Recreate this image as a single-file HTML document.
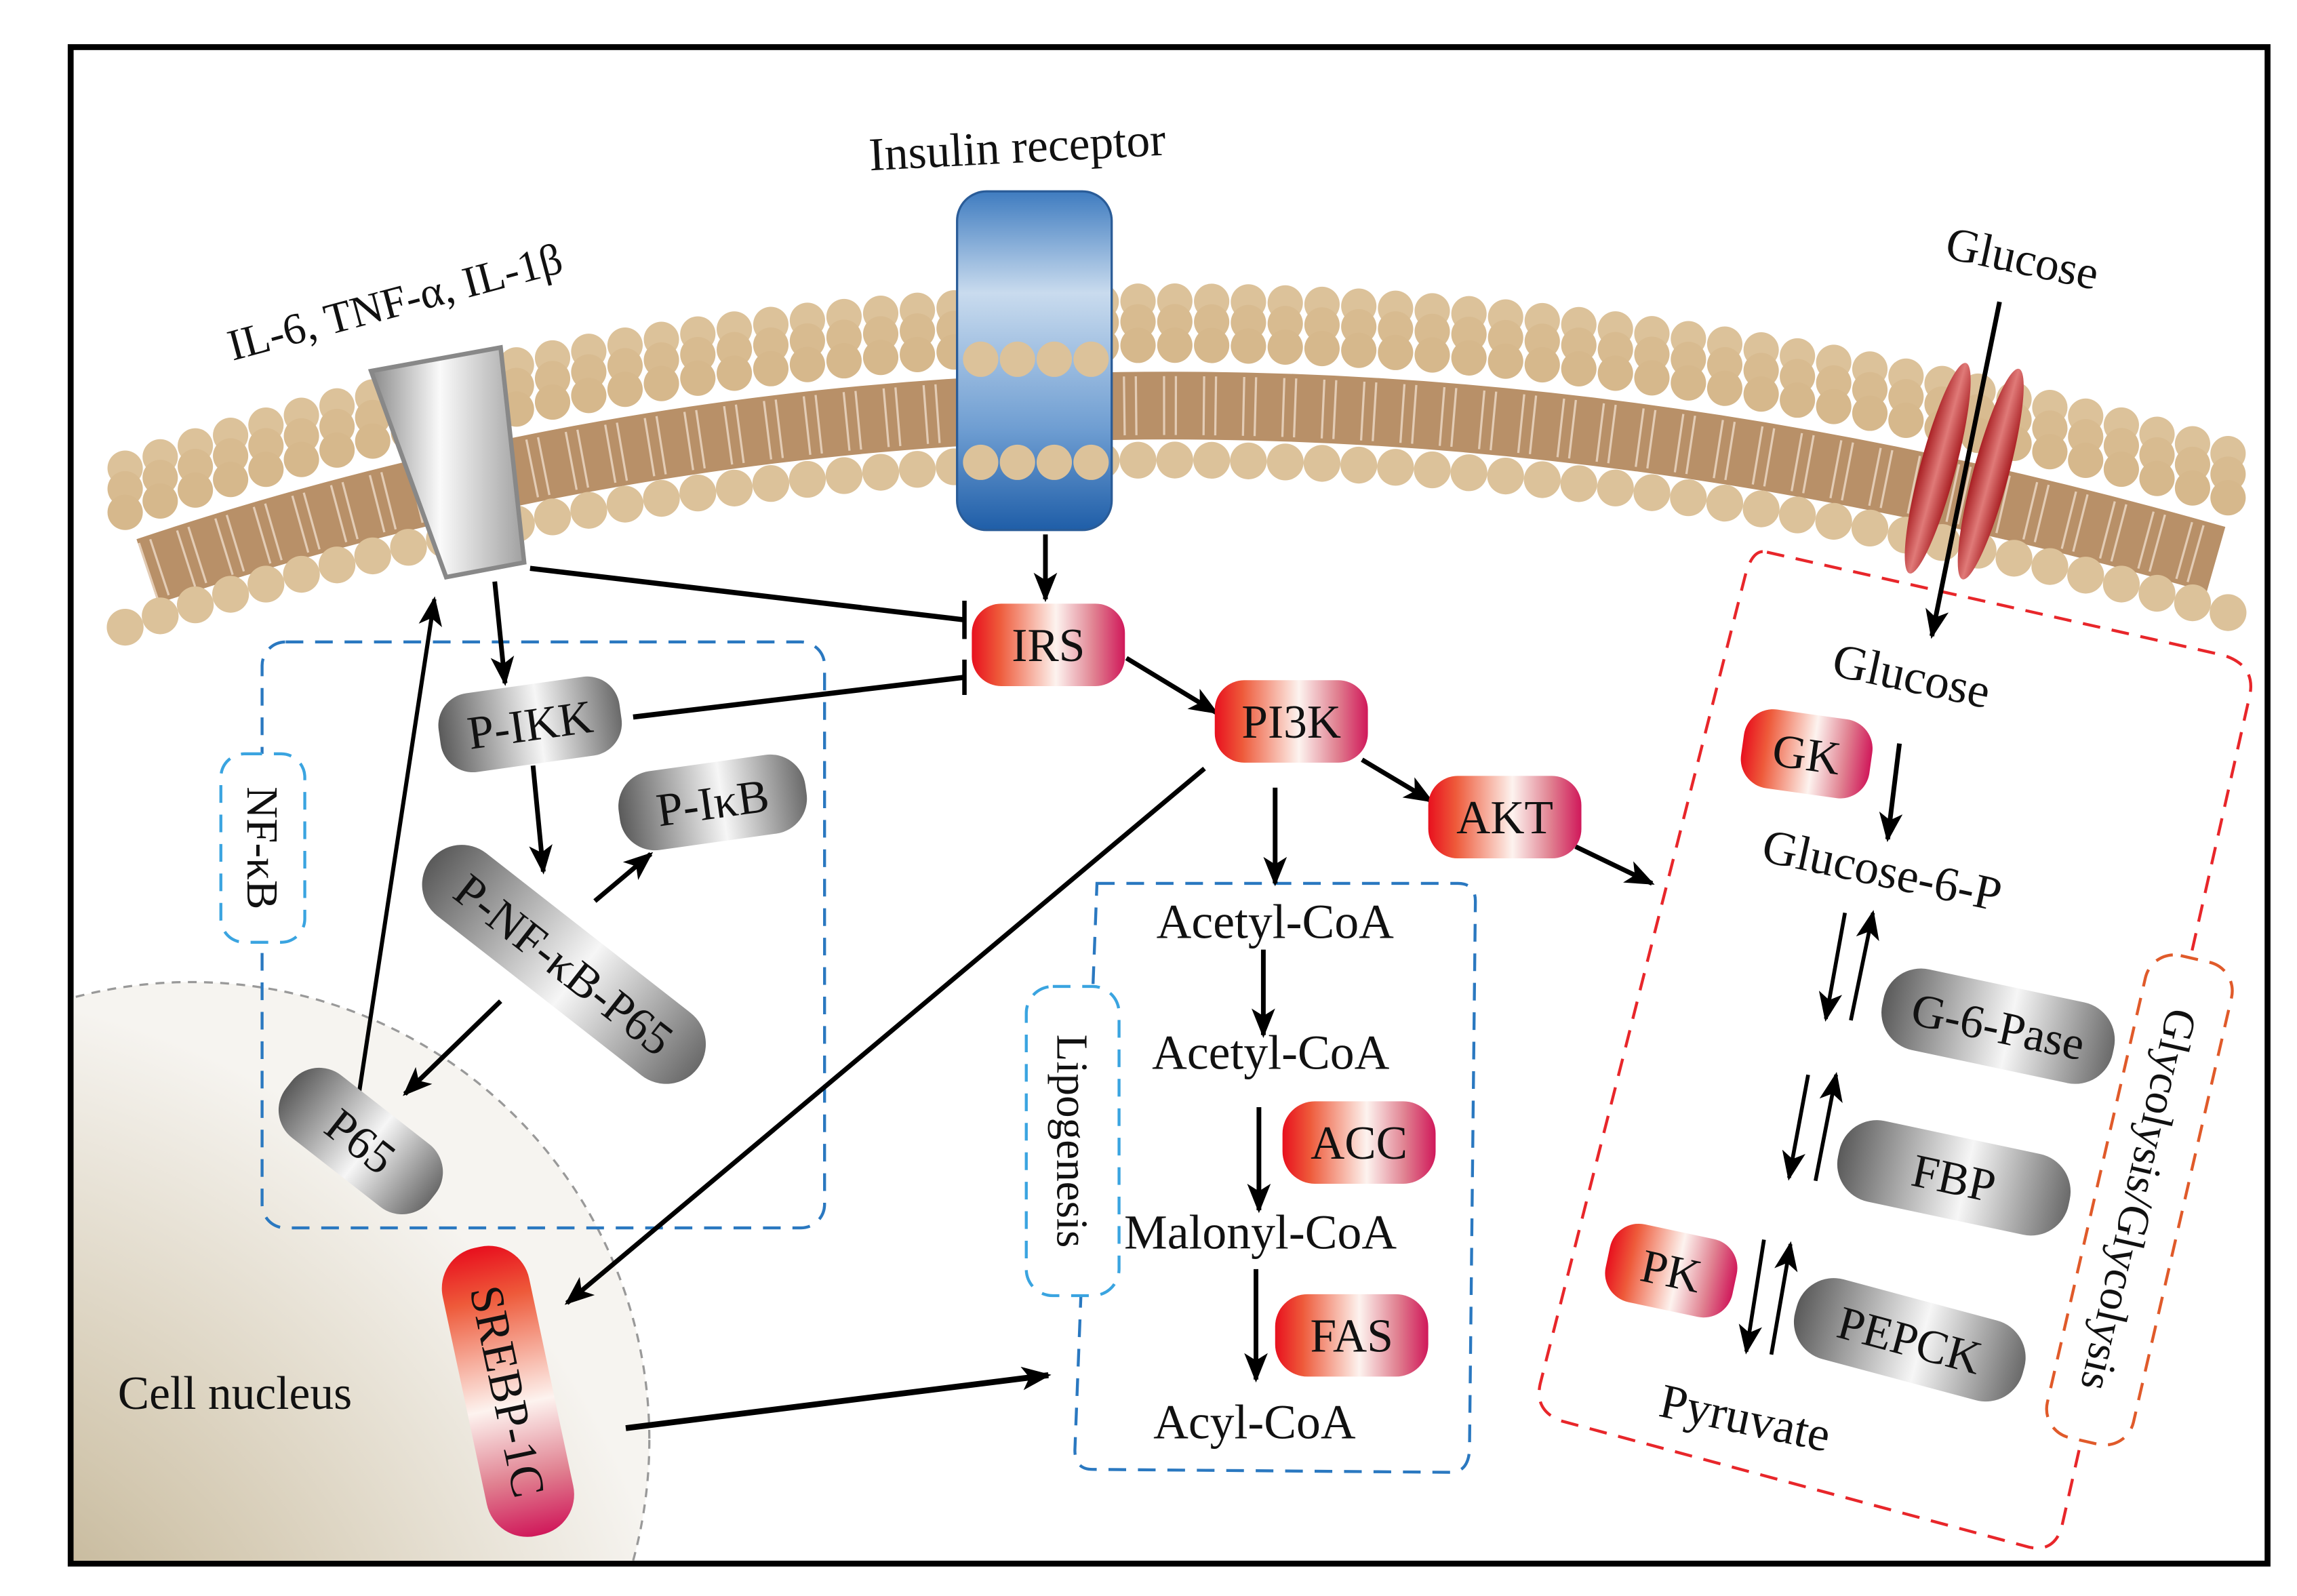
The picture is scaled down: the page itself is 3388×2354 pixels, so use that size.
<!DOCTYPE html>
<html><head><meta charset="utf-8"><style>
html,body{margin:0;padding:0;background:#fff;overflow:hidden;width:3388px;height:2354px;position:relative;}
svg{display:block;position:absolute;left:0;top:0;}
text{font-family:"Liberation Serif",serif;fill:#111;}
</style></head><body>
<svg width="3388" height="2354" viewBox="0 0 1560 1084" preserveAspectRatio="none" xmlns="http://www.w3.org/2000/svg">
<defs>
<linearGradient id="red" x1="0" y1="0" x2="1" y2="0">
<stop offset="0" stop-color="#e8101e"/><stop offset="0.18" stop-color="#ee5a3a"/><stop offset="0.55" stop-color="#fdf3ef"/><stop offset="0.8" stop-color="#e08090"/><stop offset="1" stop-color="#d0185a"/></linearGradient>
<linearGradient id="grey" x1="0" y1="0" x2="1" y2="0">
<stop offset="0" stop-color="#5a5a5a"/><stop offset="0.55" stop-color="#f6f6f6"/><stop offset="1" stop-color="#6a6a6a"/></linearGradient>
<linearGradient id="chan" x1="0" y1="0" x2="1" y2="0">
<stop offset="0" stop-color="#8a8a8a"/><stop offset="0.45" stop-color="#fafafa"/><stop offset="1" stop-color="#a0a0a0"/></linearGradient>
<linearGradient id="blue" x1="0" y1="0" x2="0" y2="1">
<stop offset="0" stop-color="#3f7cc0"/><stop offset="0.3" stop-color="#c9dbee"/><stop offset="0.7" stop-color="#6f9ed2"/><stop offset="1" stop-color="#1f5ea8"/></linearGradient>
<linearGradient id="glut" x1="0" y1="0" x2="1" y2="0">
<stop offset="0" stop-color="#a81e22"/><stop offset="0.5" stop-color="#e07a78"/><stop offset="1" stop-color="#a81e22"/></linearGradient>
<radialGradient id="nuc" cx="0.15" cy="0.9" r="0.9">
<stop offset="0" stop-color="#a8946a"/><stop offset="0.5" stop-color="#d3c8b0"/><stop offset="1" stop-color="#f6f4f0"/></radialGradient>
<clipPath id="frame"><rect x="50" y="34" width="1488" height="1026"/></clipPath>
<marker id="ah" markerWidth="20" markerHeight="16" refX="18" refY="8" orient="auto" markerUnits="userSpaceOnUse">
<path d="M0,0 L20,8 L0,16 L5,8 Z" fill="#000"/></marker>
</defs>

<rect x="48" y="32" width="1492" height="1030" fill="#fff" stroke="#000" stroke-width="4"/>

<g clip-path="url(#frame)">
<circle cx="130" cy="978" r="311" fill="url(#nuc)" stroke="#999" stroke-width="1.5" stroke-dasharray="6 5"/>
</g>
<text x="80" y="957" font-size="32">Cell nucleus</text>

<g fill="none" stroke-linecap="round">
<g transform="translate(0,72)"><path d="M100,316 Q760,95 1505,308" stroke="#b89068" stroke-width="46" stroke-linecap="butt"/>
<path d="M100,316 Q760,95 1505,308" stroke="#f5e6d6" stroke-width="40" stroke-linecap="butt" stroke-dasharray="1.5 6.5 1.5 17.5" opacity="0.7"/></g>
<path d="M85,318 Q760,95 1520,310" stroke="#dcc29a" stroke-width="24" stroke-dasharray="0 25"/>
<g transform="translate(0,14)"><path d="M85,318 Q760,95 1520,310" stroke="#d8bb90" stroke-width="24" stroke-dasharray="0 25"/></g>
<g transform="translate(0,30)"><path d="M85,318 Q760,95 1520,310" stroke="#d6b88c" stroke-width="24" stroke-dasharray="0 25"/></g>
<g transform="translate(0,108)"><path d="M85,318 Q760,95 1520,310" stroke="#dcc29a" stroke-width="25" stroke-dasharray="0 25"/></g>
</g>

<rect x="650" y="130" width="105" height="230" rx="20" fill="url(#blue)" stroke="#2a5c98" stroke-width="1.5"/>
<g fill="#dcc29a"><circle cx="666" cy="244" r="12"/><circle cx="691" cy="244" r="12"/><circle cx="716" cy="244" r="12"/><circle cx="741" cy="244" r="12"/>
<circle cx="666" cy="314" r="12"/><circle cx="691" cy="314" r="12"/><circle cx="716" cy="314" r="12"/><circle cx="741" cy="314" r="12"/></g>
<text x="590" y="110" font-size="32" transform="rotate(-3 700 100)">Insulin receptor</text>

<polygon points="252,252 340,236 356,382 303,392" fill="url(#chan)" stroke="#888" stroke-width="3"/>
<text x="158" y="245" font-size="30" transform="rotate(-15 158 245)">IL-6, TNF-α, IL-1β</text>

<ellipse cx="1316" cy="318" rx="12" ry="74" fill="url(#glut)" transform="rotate(15 1316 318)"/>
<ellipse cx="1352" cy="322" rx="12" ry="74" fill="url(#glut)" transform="rotate(15 1352 322)"/>
<text x="1320" y="175" font-size="32" transform="rotate(12 1320 175)">Glucose</text>

<rect x="178" y="436" width="382" height="398" rx="16" fill="none" stroke="#2a78c0" stroke-width="2" stroke-dasharray="12 8"/>
<rect x="150" y="512" width="57" height="128" rx="16" fill="#fff" stroke="#3aa4e0" stroke-width="2" stroke-dasharray="12 8"/>
<text x="0" y="0" font-size="30" transform="translate(168,576) rotate(90)" text-anchor="middle">NF-κB</text>

<path d="M745,600 L990,600 Q1002,600 1002,612 L998,985 Q997,1000 985,1000 L742,998 Q730,998 730,985 Z" fill="none" stroke="#2a78c0" stroke-width="2" stroke-dasharray="12 8"/>
<rect x="697" y="670" width="63" height="210" rx="18" fill="#fff" stroke="#3aa4e0" stroke-width="2" stroke-dasharray="12 8"/>
<text x="0" y="0" font-size="30" transform="translate(718,775) rotate(90)" text-anchor="middle">Lipogenesis</text>

<path d="M1200,375 L1510,445 Q1532,452 1528,472 L1400,1038 Q1394,1056 1375,1050 L1060,965 Q1042,958 1046,940 L1185,392 Q1190,372 1200,375 Z" fill="none" stroke="#e8262a" stroke-width="2" stroke-dasharray="12 8"/>
<g transform="translate(1453,815) rotate(13)">
<rect x="-30" y="-168" width="60" height="336" rx="20" fill="#fff" stroke="#e05a2a" stroke-width="2" stroke-dasharray="12 8"/>
<text x="0" y="0" font-size="30" transform="rotate(90)" text-anchor="middle" dy="0.35em">Glycolysis/Glycolysis</text>
</g>

<g stroke="#000" stroke-width="3.2" fill="none">
<line x1="710" y1="363" x2="710" y2="407" marker-end="url(#ah)"/>
<line x1="765" y1="447" x2="826" y2="484" marker-end="url(#ah)"/>
<line x1="925" y1="516" x2="972" y2="544" marker-end="url(#ah)"/>
<line x1="1070" y1="575" x2="1122" y2="600" marker-end="url(#ah)"/>
<line x1="866" y1="535" x2="866" y2="600" marker-end="url(#ah)"/>
<line x1="818" y1="522" x2="385" y2="885" marker-end="url(#ah)"/>
<line x1="858" y1="645" x2="858" y2="703" marker-end="url(#ah)"/>
<line x1="855" y1="752" x2="855" y2="822" marker-end="url(#ah)"/>
<line x1="853" y1="862" x2="853" y2="937" marker-end="url(#ah)"/>
<line x1="425" y1="970" x2="712" y2="934" marker-end="url(#ah)" stroke-width="4"/>
<line x1="360" y1="386" x2="655" y2="421" stroke-width="3.5"/>
<line x1="655" y1="408" x2="655" y2="434" stroke-width="3"/>
<line x1="430" y1="487" x2="655" y2="460" stroke-width="3.5"/>
<line x1="655" y1="448" x2="655" y2="472" stroke-width="3"/>
<line x1="336" y1="395" x2="343" y2="464" marker-end="url(#ah)"/>
<line x1="362" y1="520" x2="369" y2="592" marker-end="url(#ah)"/>
<line x1="404" y1="612" x2="442" y2="580" marker-end="url(#ah)"/>
<line x1="340" y1="680" x2="275" y2="743" marker-end="url(#ah)"/>
<line x1="243" y1="748" x2="295" y2="407" marker-end="url(#ah)" stroke-width="2.8"/>
<line x1="1358" y1="205" x2="1312" y2="432" marker-end="url(#ah)"/>
<line x1="1290" y1="505" x2="1282" y2="570" marker-end="url(#ah)"/>
<line x1="1253" y1="620" x2="1240" y2="692" marker-end="url(#ah)" stroke-width="2.6"/>
<line x1="1257" y1="693" x2="1272" y2="620" marker-end="url(#ah)" stroke-width="2.6"/>
<line x1="1228" y1="730" x2="1215" y2="800" marker-end="url(#ah)" stroke-width="2.6"/>
<line x1="1233" y1="802" x2="1247" y2="730" marker-end="url(#ah)" stroke-width="2.6"/>
<line x1="1198" y1="842" x2="1186" y2="918" marker-end="url(#ah)" stroke-width="2.6"/>
<line x1="1203" y1="920" x2="1216" y2="845" marker-end="url(#ah)" stroke-width="2.6"/>
</g>

<g font-size="32" text-anchor="middle">
<g transform="translate(712,438)"><rect x="-52" y="-28" width="104" height="56" rx="20" fill="url(#red)"/><text y="11">IRS</text></g>
<g transform="translate(877,490)"><rect x="-52" y="-28" width="104" height="56" rx="20" fill="url(#red)"/><text y="11">PI3K</text></g>
<g transform="translate(1022,555)"><rect x="-52" y="-28" width="104" height="56" rx="20" fill="url(#red)"/><text y="11">AKT</text></g>
<g transform="translate(1227,512) rotate(8)"><rect x="-44" y="-27" width="88" height="54" rx="20" fill="url(#red)"/><text y="11">GK</text></g>
<g transform="translate(923,776)"><rect x="-52" y="-28" width="104" height="56" rx="22" fill="url(#red)"/><text y="11">ACC</text></g>
<g transform="translate(918,907)"><rect x="-52" y="-28" width="104" height="56" rx="22" fill="url(#red)"/><text y="11">FAS</text></g>
<g transform="translate(1135,863) rotate(12)"><rect x="-44" y="-27" width="88" height="54" rx="20" fill="url(#red)"/><text y="11">PK</text></g>
<g transform="translate(345,945) rotate(78)"><rect x="-100" y="-30" width="200" height="60" rx="28" fill="url(#red)"/><text y="11">SREBP-1C</text></g>

<g transform="translate(360,492) rotate(-8)"><rect x="-62" y="-27" width="124" height="54" rx="22" fill="url(#grey)"/><text y="11">P-IKK</text></g>
<g transform="translate(484,545) rotate(-8)"><rect x="-64" y="-27" width="128" height="54" rx="24" fill="url(#grey)"/><text y="11">P-IκB</text></g>
<g transform="translate(383,655) rotate(38)"><rect x="-115" y="-27" width="230" height="54" rx="27" fill="url(#grey)"/><text y="11">P-NF-κB-P65</text></g>
<g transform="translate(245,775) rotate(38)"><rect x="-62" y="-27" width="124" height="54" rx="24" fill="url(#grey)"/><text y="11">P65</text></g>
<g transform="translate(1357,697) rotate(12)"><rect x="-80" y="-28" width="160" height="56" rx="26" fill="url(#grey)"/><text y="11">G-6-Pase</text></g>
<g transform="translate(1327,800) rotate(12)"><rect x="-80" y="-28" width="160" height="56" rx="26" fill="url(#grey)"/><text y="11">FBP</text></g>
<g transform="translate(1297,910) rotate(15)"><rect x="-80" y="-28" width="160" height="56" rx="26" fill="url(#grey)"/><text y="11">PEPCK</text></g>
</g>

<g font-size="33" text-anchor="middle">
<text x="866" y="637">Acetyl-CoA</text>
<text x="863" y="726">Acetyl-CoA</text>
<text x="856" y="848">Malonyl-CoA</text>
<text x="852" y="977">Acyl-CoA</text>
<text x="1298" y="470" transform="rotate(12 1298 460)">Glucose</text>
<text x="1278" y="602" transform="rotate(12 1278 592)">Glucose-6-P</text>
<text x="1185" y="974" transform="rotate(12 1185 964)">Pyruvate</text>
</g>
</svg>
</body></html>
